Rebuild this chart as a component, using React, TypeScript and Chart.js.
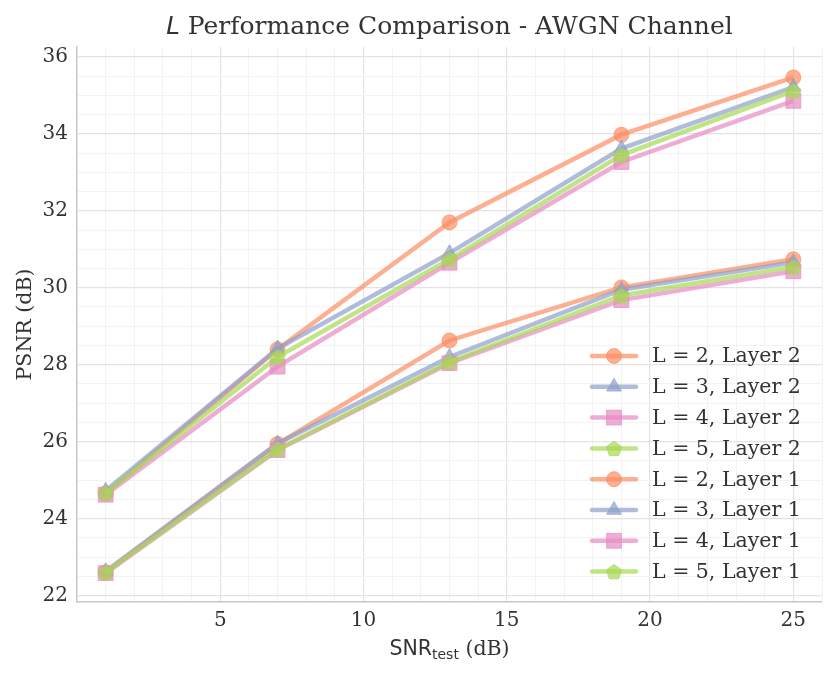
import React, { useEffect, useRef } from "react";
import { Chart, registerables } from "chart.js";

Chart.register(...registerables);

// SNR test points (dB)
const snrTest = [1, 7, 13, 19, 25];

// PSNR (dB), refinement layer 2
const l2Layer2 = [24.65, 28.4, 31.7, 33.98, 35.47];
const l3Layer2 = [24.72, 28.42, 30.9, 33.62, 35.22];
const l4Layer2 = [24.62, 27.95, 30.65, 33.27, 34.86];
const l5Layer2 = [24.66, 28.2, 30.74, 33.45, 35.12];

// PSNR (dB), base layer 1
const l2Layer1 = [22.6, 25.94, 28.63, 30.01, 30.74];
const l3Layer1 = [22.63, 25.95, 28.2, 29.95, 30.66];
const l4Layer1 = [22.58, 25.78, 28.04, 29.68, 30.43];
const l5Layer1 = [22.6, 25.8, 28.07, 29.8, 30.54];

const seriesLabels = [
  "L = 2, Layer 2",
  "L = 3, Layer 2",
  "L = 4, Layer 2",
  "L = 5, Layer 2",
  "L = 2, Layer 1",
  "L = 3, Layer 1",
  "L = 4, Layer 1",
  "L = 5, Layer 1",
];
const seriesValues = [l2Layer2, l3Layer2, l4Layer2, l5Layer2, l2Layer1, l3Layer1, l4Layer1, l5Layer1];

const xTickLabels = [5, 10, 15, 20, 25];
const yTickLabels = [22, 24, 26, 28, 30, 32, 34, 36];

const palette = ["252,141,98", "141,160,203", "231,138,195", "166,216,84"];
const markers = ["circle", "triangle", "rect", "pentagon"];
const markerRadius: Record<string, number> = { circle: 7.5, triangle: 8.5, rect: 10.5, pentagon: 8 };

const SERIF = "'DejaVu Serif', serif";
const SANS = "'DejaVu Sans', sans-serif";
const TEXT = "#333333";

function pentagonPath(ctx: CanvasRenderingContext2D, cx: number, cy: number, r: number) {
  ctx.beginPath();
  for (let k = 0; k < 5; k++) {
    const a = -Math.PI / 2 + (k * 2 * Math.PI) / 5;
    const px = cx + r * Math.cos(a);
    const py = cy + r * Math.sin(a);
    if (k === 0) ctx.moveTo(px, py);
    else ctx.lineTo(px, py);
  }
  ctx.closePath();
}

function pentagonImage(rgb: string, r: number): HTMLCanvasElement {
  const c = document.createElement("canvas");
  const s = Math.ceil(r * 2 + 4);
  c.width = s;
  c.height = s;
  const g = c.getContext("2d")!;
  pentagonPath(g, s / 2, s / 2 + 0.8, r);
  g.fillStyle = `rgba(${rgb},0.7)`;
  g.fill();
  g.strokeStyle = `rgba(${rgb},0.7)`;
  g.lineWidth = 1;
  g.stroke();
  return c;
}

function drawMarker(ctx: CanvasRenderingContext2D, kind: string, rgb: string, x: number, y: number) {
  const r = markerRadius[kind];
  ctx.save();
  ctx.fillStyle = `rgba(${rgb},0.7)`;
  ctx.strokeStyle = `rgba(${rgb},0.7)`;
  ctx.lineWidth = 1;
  ctx.beginPath();
  if (kind === "circle") {
    ctx.arc(x, y, r, 0, Math.PI * 2);
  } else if (kind === "triangle") {
    const w = r * Math.sqrt(3) / 2;
    ctx.moveTo(x, y - r);
    ctx.lineTo(x + w, y + r / 2);
    ctx.lineTo(x - w, y + r / 2);
    ctx.closePath();
  } else if (kind === "rect") {
    const h = r * Math.SQRT1_2;
    ctx.rect(x - h, y - h, 2 * h, 2 * h);
  } else {
    pentagonPath(ctx, x, y + 0.8, r);
  }
  ctx.fill();
  ctx.stroke();
  ctx.restore();
}

const decorations = {
  id: "decorations",
  afterDraw(chart: any) {
    const ctx: CanvasRenderingContext2D = chart.ctx;
    const area = chart.chartArea;
    const cx = (area.left + area.right) / 2;
    ctx.save();
    ctx.fillStyle = TEXT;
    ctx.textBaseline = "alphabetic";
    ctx.textAlign = "left";

    // Title with italic math L
    const tFontItalic = `italic 24.5px ${SANS}`;
    const tFont = `25px ${SERIF}`;
    ctx.font = tFontItalic;
    const wL = ctx.measureText("L").width;
    ctx.font = tFont;
    const rest = " Performance Comparison - AWGN Channel";
    const wRest = ctx.measureText(rest).width;
    let x0 = cx - (wL + wRest) / 2;
    ctx.font = tFontItalic;
    ctx.fillText("L", x0, 34);
    ctx.font = tFont;
    ctx.fillText(rest, x0 + wL, 34);

    // X axis title: SNR_test (dB)
    const xb = 655;
    const f1 = `20.5px ${SANS}`;
    const f2 = `14px ${SANS}`;
    const f3 = `20.5px ${SERIF}`;
    ctx.font = f1;
    const w1 = ctx.measureText("SNR").width;
    ctx.font = f2;
    const w2 = ctx.measureText("test").width;
    ctx.font = f3;
    const w3 = ctx.measureText(" (dB)").width;
    x0 = cx - (w1 + w2 + w3) / 2;
    ctx.font = f1;
    ctx.fillText("SNR", x0, xb);
    ctx.font = f2;
    ctx.fillText("test", x0 + w1, xb + 4);
    ctx.font = f3;
    ctx.fillText(" (dB)", x0 + w1 + w2, xb);

    // Y axis title
    ctx.save();
    ctx.translate(31, (area.top + area.bottom) / 2);
    ctx.rotate(-Math.PI / 2);
    ctx.textAlign = "center";
    ctx.font = `20.5px ${SERIF}`;
    ctx.fillText("PSNR (dB)", 0, 0);
    ctx.restore();

    // Legend
    const lx = 592;
    const ly = 356;
    const step = 30.8;
    ctx.font = `20.5px ${SERIF}`;
    ctx.textBaseline = "middle";
    seriesLabels.forEach((label, i) => {
      const rgb = palette[i % 4];
      const y = ly + i * step;
      ctx.save();
      ctx.strokeStyle = `rgba(${rgb},0.7)`;
      ctx.lineWidth = 4.5;
      ctx.lineCap = "round";
      ctx.beginPath();
      ctx.moveTo(lx, y);
      ctx.lineTo(lx + 44, y);
      ctx.stroke();
      ctx.restore();
      drawMarker(ctx, markers[i % 4], rgb, lx + 22, y);
      ctx.fillStyle = TEXT;
      ctx.fillText(label, 652, y + 1);
    });
    ctx.restore();
  },
};

export default function App() {
  const ref = useRef<HTMLCanvasElement>(null);

  useEffect(() => {
    document.body.style.margin = "0";
    const canvas = ref.current!;
    const pent = pentagonImage(palette[3], markerRadius.pentagon);

    const datasets = seriesValues.map((vals, i) => {
      const rgb = palette[i % 4];
      const kind = markers[i % 4];
      return {
        label: seriesLabels[i],
        data: vals.map((v, k) => ({ x: snrTest[k], y: v })),
        borderColor: `rgba(${rgb},0.7)`,
        backgroundColor: `rgba(${rgb},0.7)`,
        pointBackgroundColor: `rgba(${rgb},0.7)`,
        pointBorderColor: `rgba(${rgb},0.7)`,
        pointBorderWidth: 1,
        borderWidth: 4.5,
        pointStyle: kind === "pentagon" ? pent : kind,
        pointRadius: markerRadius[kind],
        tension: 0,
        order: seriesValues.length - i,
      };
    });

    const chart = new Chart(canvas, {
      type: "line",
      data: { datasets: datasets as any },
      plugins: [decorations],
      options: {
        responsive: false,
        animation: false,
        layout: { padding: { top: 47, right: 15, left: 0, bottom: 0 } },
        plugins: { legend: { display: false }, tooltip: { enabled: false }, title: { display: false } },
        scales: {
          x: {
            type: "linear",
            min: 0,
            max: 26,
            afterBuildTicks: (axis: any) => {
              const t = [];
              for (let v = 0; v <= 26; v++) t.push({ value: v });
              axis.ticks = t;
            },
            afterFit: (axis: any) => {
              axis.height = 73;
            },
            ticks: {
              autoSkip: false,
              maxRotation: 0,
              padding: 7,
              color: TEXT,
              font: { family: SERIF, size: 20 },
              callback: (v: any) => (xTickLabels.includes(Number(v)) ? String(v) : ""),
            },
            grid: {
              drawTicks: false,
              color: (c: any) => (c.tick && c.tick.value % 5 === 0 ? "#e3e3e3" : "#f3f3f3"),
              lineWidth: (c: any) => (c.tick && c.tick.value % 5 === 0 ? 1.2 : 1),
            },
            border: { display: true, color: "#c8c8c8", width: 1.5 },
          },
          y: {
            type: "linear",
            min: 21.83,
            max: 36.26,
            afterBuildTicks: (axis: any) => {
              const t = [];
              for (let v = 22; v <= 36; v += 0.5) t.push({ value: v });
              axis.ticks = t;
            },
            afterFit: (axis: any) => {
              axis.width = 77;
            },
            ticks: {
              autoSkip: false,
              padding: 9,
              color: TEXT,
              font: { family: SERIF, size: 20 },
              callback: (v: any) => (yTickLabels.includes(Number(v)) ? String(v) : ""),
            },
            grid: {
              drawTicks: false,
              color: (c: any) => (c.tick && c.tick.value % 2 === 0 ? "#e3e3e3" : "#f3f3f3"),
              lineWidth: (c: any) => (c.tick && c.tick.value % 2 === 0 ? 1.2 : 1),
            },
            border: { display: true, color: "#c8c8c8", width: 1.5 },
          },
        },
      },
    });
    return () => chart.destroy();
  }, []);

  return <canvas ref={ref} width={837} height={675} style={{ display: "block" }} />;
}
